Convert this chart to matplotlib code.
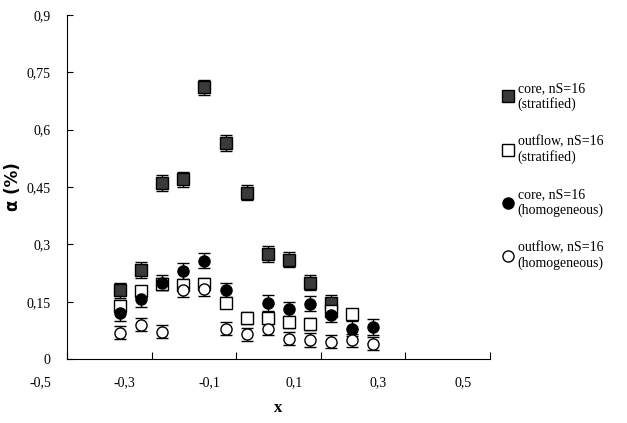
import matplotlib.pyplot as plt
import matplotlib.transforms as mtransforms
from matplotlib.ticker import FuncFormatter
from matplotlib.lines import Line2D

plt.rcParams['font.family'] = ['Liberation Serif', 'DejaVu Serif']

x_all = [-0.375, -0.325, -0.275, -0.225, -0.175, -0.125, -0.075, -0.025, 0.025, 0.075, 0.125, 0.175, 0.225]

core_strat_x = x_all[:11]
core_strat_y = [0.18, 0.233, 0.46, 0.47, 0.71, 0.565, 0.435, 0.275, 0.26, 0.20, 0.147]
out_strat_x = x_all[:12]
out_strat_y = [0.14, 0.177, 0.196, 0.193, 0.196, 0.148, 0.108, 0.108, 0.097, 0.092, 0.125, 0.117]
core_hom_x = x_all[:6] + x_all[7:]
core_hom_y = [0.12, 0.157, 0.20, 0.23, 0.257, 0.18, 0.147, 0.13, 0.145, 0.116, 0.08, 0.084]
out_hom_x = x_all
out_hom_y = [0.069, 0.09, 0.071, 0.18, 0.183, 0.08, 0.065, 0.079, 0.053, 0.05, 0.045, 0.049, 0.04]

labels = ['core, nS=16\n(stratified)', 'outflow, nS=16\n(stratified)',
          'core, nS=16\n(homogeneous)', 'outflow, nS=16\n(homogeneous)']

fig = plt.figure(figsize=(6.27, 4.23), dpi=100)
ax = fig.add_axes([0.107, 0.151, 0.674, 0.814])

common = dict(linestyle='none', markersize=8, ecolor='black', elinewidth=1, capsize=4,
              markeredgecolor='black', markeredgewidth=1)
ax.errorbar(core_strat_x, core_strat_y, yerr=0.02, marker='s',
            markerfacecolor='#3a3a3a', **common)
ax.errorbar(out_strat_x, out_strat_y, yerr=0.015, marker='s',
            markerfacecolor='white', **common)
ax.errorbar(core_hom_x, core_hom_y, yerr=0.02, marker='o',
            markerfacecolor='black', **common)
ax.errorbar(out_hom_x, out_hom_y, yerr=0.017, marker='o',
            markerfacecolor='white', **common)

ax.set_xlim(-0.5, 0.5)
ax.set_ylim(0, 0.9)
ax.set_xticks([-0.5, -0.3, -0.1, 0.1, 0.3, 0.5])
ax.set_yticks([0, 0.15, 0.3, 0.45, 0.6, 0.75, 0.9])
fmt = FuncFormatter(lambda v, p: ('%g' % round(v, 2)).replace('.', ','))
ax.xaxis.set_major_formatter(fmt)
ax.yaxis.set_major_formatter(fmt)
ax.tick_params(axis='x', direction='in', length=5, labelsize=10, pad=12)
ax.tick_params(axis='y', direction='in', length=4, labelsize=10, pad=12)
shift = mtransforms.ScaledTranslation(-0.27, 0, fig.dpi_scale_trans)
for lab in ax.get_xticklabels():
    lab.set_transform(lab.get_transform() + shift)
for s in ['top', 'right']:
    ax.spines[s].set_visible(False)

ax.set_xlabel('x', fontsize=12, fontweight='bold', labelpad=8)
ax.set_ylabel('α (%)', fontsize=12, fontweight='bold', family=['DejaVu Sans'], labelpad=3)

handles = [
    Line2D([], [], linestyle='none', marker='s', markersize=8, markerfacecolor='#3a3a3a', markeredgecolor='black'),
    Line2D([], [], linestyle='none', marker='s', markersize=8, markerfacecolor='white', markeredgecolor='black'),
    Line2D([], [], linestyle='none', marker='o', markersize=8, markerfacecolor='black', markeredgecolor='black'),
    Line2D([], [], linestyle='none', marker='o', markersize=8, markerfacecolor='white', markeredgecolor='black'),
]
leg = fig.legend(handles, labels, loc='upper left', bbox_to_anchor=(0.79, 0.82),
                 frameon=False, fontsize=10, labelspacing=1.75, handletextpad=0.2,
                 handlelength=1.0, borderaxespad=0)
for t in leg.get_texts():
    t.set_multialignment('left')

fig.savefig('out.png', dpi=100)
